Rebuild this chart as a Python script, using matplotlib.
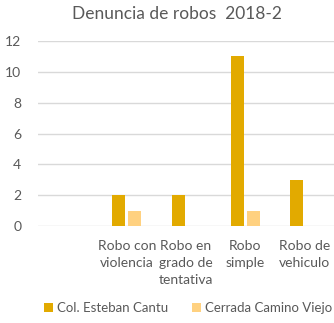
import matplotlib.pyplot as plt
import numpy as np

categories = ['', 'Robo con\nviolencia', 'Robo en\ngrado de\ntentativa', 'Robo\nsimple', 'Robo de\nvehiculo']
esteban_cantu = [0, 2, 2, 11, 3]
camino_viejo = [0, 1, 0, 1, 0]
y_ticks = [0, 2, 4, 6, 8, 10, 12]

DARK = '#E2AA00'
LIGHT = '#FFD180'
TEXT = '#595959'

plt.rcParams['font.family'] = ['Lato', 'DejaVu Sans']

fig = plt.figure(figsize=(3.34, 3.23), dpi=100)
ax = fig.add_axes([0.114, 0.300, 0.886, 0.573])

x = np.arange(len(categories))
w = 0.22
ax.bar(x - 0.135, esteban_cantu, w, color=DARK, label='Col. Esteban Cantu', zorder=3)
ax.bar(x + 0.135, camino_viejo, w, color=LIGHT, label='Cerrada Camino Viejo', zorder=3)

ax.set_xlim(-0.5, len(categories) - 0.5)
ax.set_ylim(0, 12)
ax.set_yticks(y_ticks)
ax.set_xticks(x)
ax.set_xticklabels(categories, fontsize=10, color=TEXT, linespacing=1.5)
ax.tick_params(axis='y', labelsize=10, labelcolor=TEXT, length=0, pad=12)
ax.tick_params(axis='x', length=0, pad=10)
ax.grid(axis='y', color='#D9D9D9', linewidth=1, zorder=0)
for s in ax.spines.values():
    s.set_visible(False)

fig.suptitle('Denuncia de robos  2018-2', x=0.53, y=0.98, fontsize=12.5, color=TEXT)

fig.legend(loc='lower left', bbox_to_anchor=(0.095, -0.01), ncol=2, frameon=False,
           fontsize=9.5, labelcolor=TEXT, handlelength=0.7, handleheight=0.7,
           handletextpad=0.3, columnspacing=1.8)

fig.savefig('out.png', dpi=100)
